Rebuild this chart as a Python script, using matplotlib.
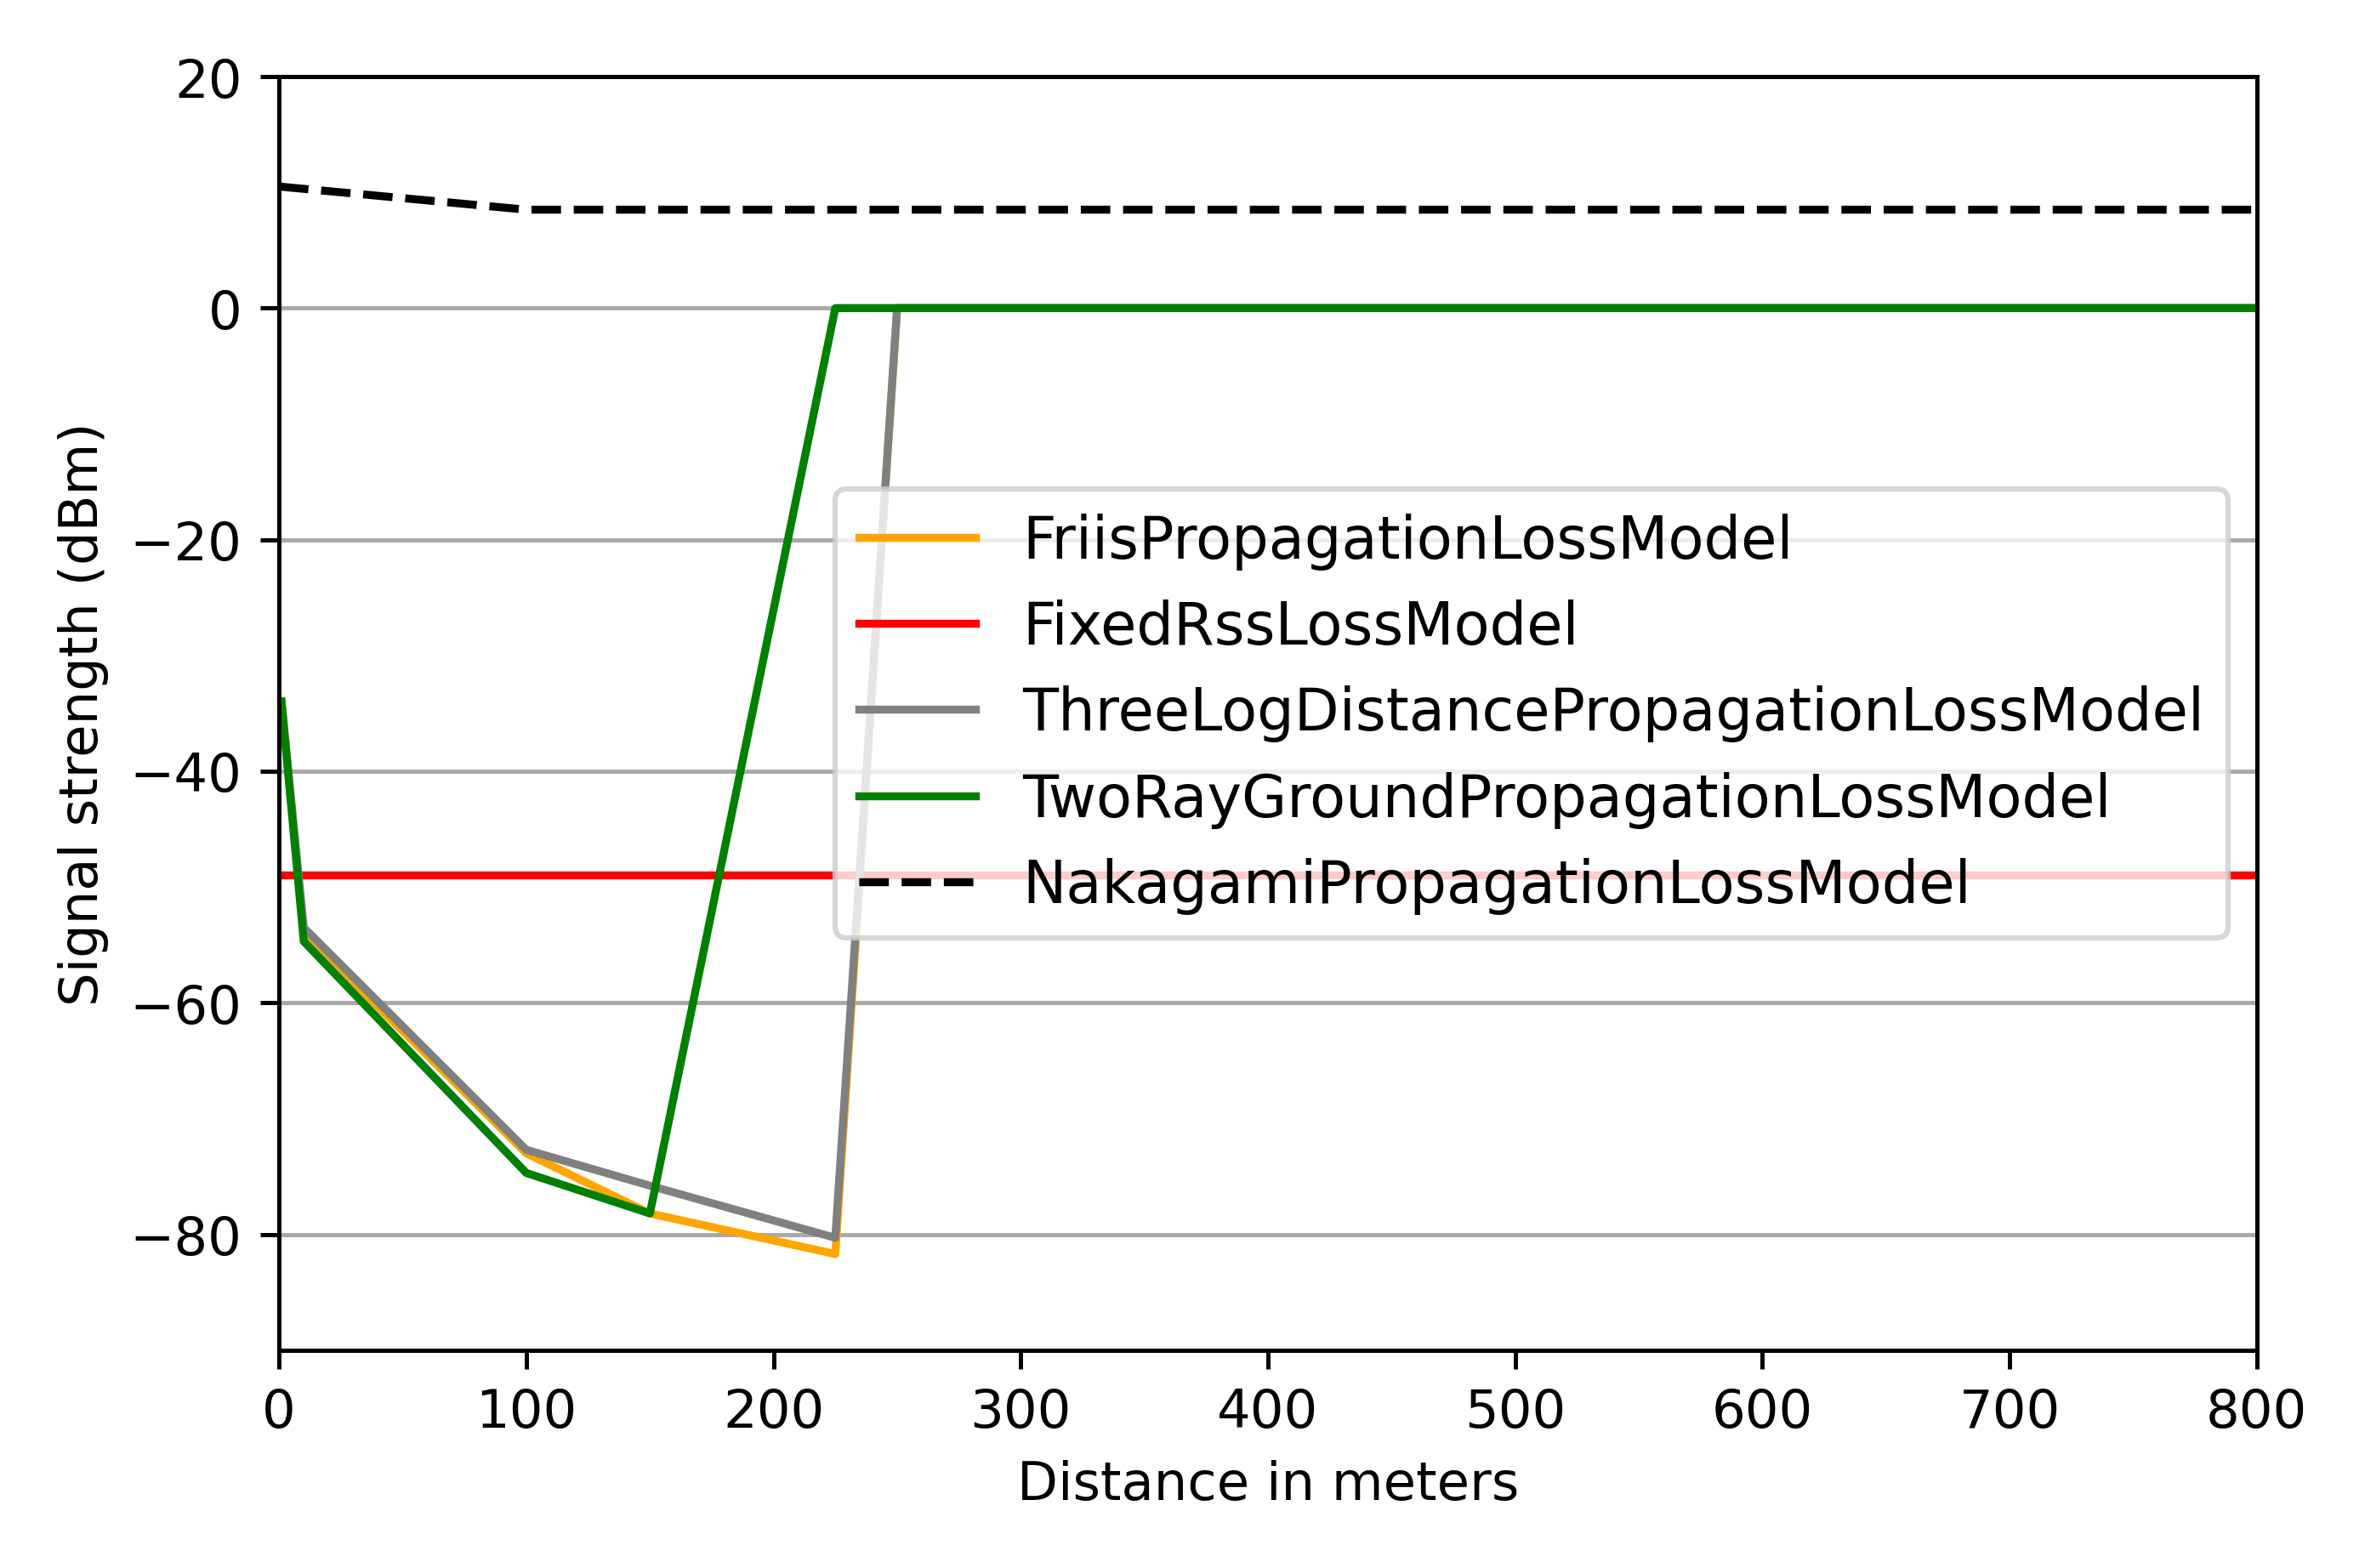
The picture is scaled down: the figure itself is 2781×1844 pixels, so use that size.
import matplotlib
matplotlib.use("Agg")
import matplotlib.pyplot as plt

x = [1, 10, 100, 150, 225, 250, 800]
friis = [-34, -54.0, -73.0, -78.2, -81.7, 0, 0]
fixed = [-49, -49, -49, -49, -49, -49, -49]
threelog = [-34, -53.5, -72.7, -75.8, -80.3, 0, 0]
tworay = [-34, -54.7, -74.7, -78.2, 0, 0, 0]
nakagami = [10.5, 10.3, 8.5, 8.5, 8.5, 8.5, 8.5]

fig, ax = plt.subplots(figsize=(6.18, 4.10), dpi=450)
ax.plot(x, friis, color='orange', label='FriisPropagationLossModel')
ax.plot(x, fixed, color='red', label='FixedRssLossModel')
ax.plot(x, threelog, color='grey', label='ThreeLogDistancePropagationLossModel')
ax.plot(x, tworay, color='green', label='TwoRayGroundPropagationLossModel')
ax.plot([0] + x[1:], nakagami, color='black', linestyle='--', label='NakagamiPropagationLossModel')
ax.set_xlim(0, 800)
ax.set_ylim(-90, 20)
ax.yaxis.grid(True, color='darkgrey')
ax.set_axisbelow(True)
ax.set_xlabel('Distance in meters')
ax.set_ylabel('Signal strength (dBm)')
ax.legend(loc='center right', fontsize=11)
fig.tight_layout()
fig.savefig('out.png')
